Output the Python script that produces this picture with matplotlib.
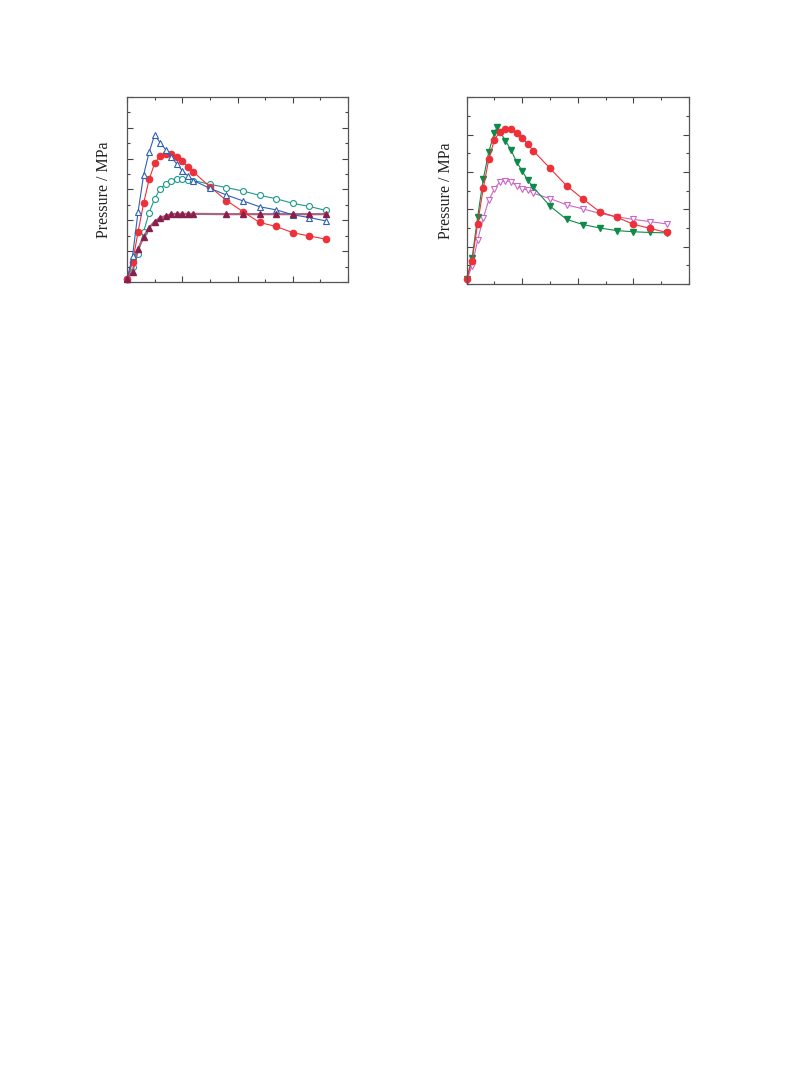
import matplotlib
matplotlib.use("Agg")
import matplotlib.pyplot as plt
from matplotlib.ticker import MultipleLocator

# shared time grid (0..12 step 1, then 15..36 step 3)
x_fine = [0, 1, 2, 3, 4, 5, 6, 7, 8, 9, 10, 11, 12]
x_coarse = [15, 18, 21, 24, 27, 30, 33, 36]
x_all = x_fine + x_coarse

# left panel
blue_open_tri = [1.0, 8.5, 22.8, 34.7, 42.1, 47.7, 45.2, 42.9, 40.5, 38.3, 36.1, 34.4, 32.9,
                 30.4, 28.2, 26.3, 24.4, 23.4, 21.8, 20.9, 19.8]
red_circle = [1.0, 6.4, 16.3, 25.5, 33.3, 38.5, 40.9, 41.5, 41.6, 40.5, 39.1, 37.4, 35.7,
              30.9, 26.4, 22.8, 19.3, 18.0, 16.0, 14.9, 13.9]
teal_open_circle = [1.0, 5.0, 9.2, 16.3, 22.5, 27.0, 30.2, 31.8, 32.9, 33.3, 33.3, 33.1, 32.9,
                    31.7, 30.6, 29.5, 28.1, 27.0, 25.5, 24.5, 23.2]
x_maroon = x_fine + [18, 21, 24, 27, 30, 33, 36]
maroon_tri = [1.0, 3.4, 10.6, 14.7, 17.6, 19.6, 20.9, 21.4, 22.0, 22.1, 22.1, 22.1, 22.1,
              22.0, 22.0, 22.0, 22.0, 22.0, 22.0, 22.0]

# right panel
x_green = [0, 1, 2, 3, 4, 5, 5.5, 7, 8, 9, 10, 11, 12] + x_coarse
green_down_tri = [1.3, 6.9, 18.0, 28.0, 35.4, 40.5, 42.0, 38.4, 35.9, 32.7, 30.3, 27.8, 25.9,
                  20.9, 17.3, 15.9, 15.0, 14.3, 14.0, 13.8, 13.7]
red_circle_r = [1.3, 6.2, 16.2, 25.6, 33.4, 38.6, 40.8, 41.5, 41.5, 40.5, 39.2, 37.5, 35.7,
                31.0, 26.3, 22.7, 19.3, 17.9, 16.0, 14.9, 13.8]
pink_open_down = [0.8, 4.9, 11.8, 17.6, 22.5, 25.4, 27.4, 27.7, 27.4, 26.3, 25.5, 25.2, 24.3,
                  22.9, 21.2, 20.1, 18.9, 18.0, 17.3, 16.7, 16.1]

plt.rcParams["font.family"] = ["Liberation Serif", "DejaVu Serif"]

fig = plt.figure(figsize=(7.93, 10.73), dpi=100)
ax1 = fig.add_axes([0.1602, 0.7372, 0.2787, 0.1724])
ax2 = fig.add_axes([0.5883, 0.7353, 0.2806, 0.1740])

kw = dict(lw=0.8, clip_on=False)
ax1.plot(x_all, teal_open_circle, color="#1b9a8c", marker="o", ms=4.3, mfc="white",
         mew=0.8, **kw)
ax1.plot(x_maroon, maroon_tri, color="#a86480", lw=1.6, clip_on=False, zorder=2)
ax1.plot(x_maroon, maroon_tri, ls="none", marker="^", ms=5, color="#8a1f4e", clip_on=False,
         zorder=3)
ax1.plot(x_all, red_circle, color="#ee3038", marker="o", ms=4.5, **kw)
ax1.plot(x_all, blue_open_tri, color="#2f5fb8", marker="^", ms=5, mfc="white", mew=0.8, **kw)

ax2.plot(x_all, pink_open_down, color="#cc66c6", marker="v", ms=5, mfc="white", mew=0.8, **kw)
ax2.plot(x_green, green_down_tri, color="#0e8a4a", marker="v", ms=5, **kw)
ax2.plot(x_all, red_circle_r, color="#ee3038", marker="o", ms=4.5, **kw)

for ax, ymax, lx in ((ax1, 60, -0.104), (ax2, 50, -0.094)):
    ax.set_xlim(0, 40)
    ax.set_ylim(0, ymax)
    ax.xaxis.set_major_locator(MultipleLocator(10))
    ax.xaxis.set_minor_locator(MultipleLocator(5))
    ax.yaxis.set_major_locator(MultipleLocator(10))
    ax.yaxis.set_minor_locator(MultipleLocator(5))
    ax.tick_params(which="both", direction="in", top=True, right=True,
                   labelbottom=False, labelleft=False, color="#444444", width=0.8)
    ax.tick_params(which="major", length=4)
    ax.tick_params(which="minor", length=2)
    for s in ax.spines.values():
        s.set_color("#555555")
        s.set_linewidth(0.9)
    ax.text(lx, 0.5, "Pressure / MPa", transform=ax.transAxes, rotation=90,
            ha="center", va="center", fontsize=11.5, color="#222222")

fig.savefig("out.png", facecolor="white")
